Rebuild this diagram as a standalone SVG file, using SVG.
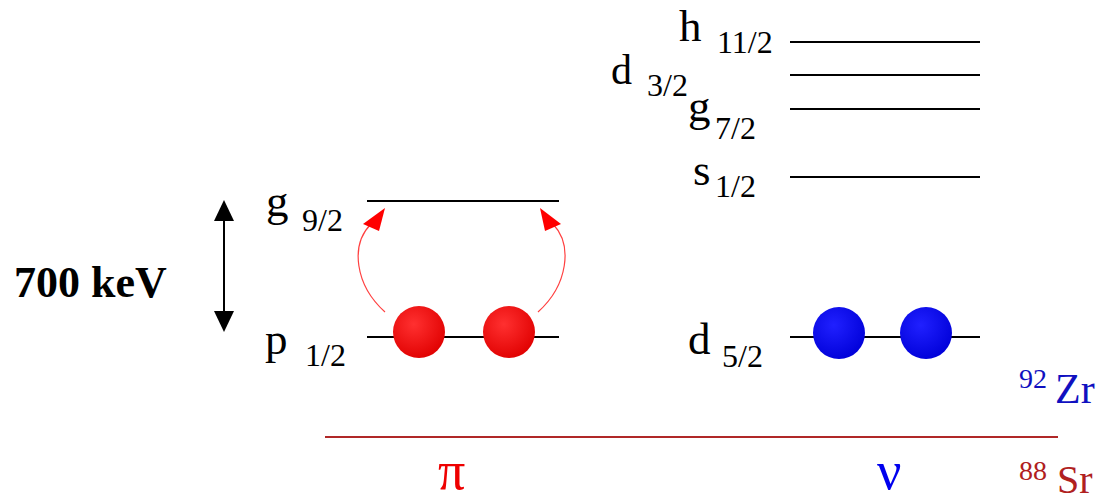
<svg xmlns="http://www.w3.org/2000/svg" width="1103" height="502" viewBox="0 0 1103 502">
<defs>
<radialGradient id="gr" cx="0.4" cy="0.35" r="0.7"><stop offset="0" stop-color="#ff3030"/><stop offset="1" stop-color="#e00000"/></radialGradient>
<radialGradient id="gb" cx="0.4" cy="0.35" r="0.7"><stop offset="0" stop-color="#2020ff"/><stop offset="1" stop-color="#0000d8"/></radialGradient>
<style>
.t{font-family:"Liberation Serif",serif;fill:#000}
.l{font-size:45px}
.s{font-size:32px}
.lv{stroke:#000;stroke-width:2;fill:none}
.ser{font-family:"Liberation Serif",serif}
</style>
</defs>
<g id="energy">
<line x1="224" y1="220" x2="224" y2="312" stroke="#000" stroke-width="2"/>
<path d="M224,200 L214,221 L234,221 z" fill="#000"/>
<path d="M224,332 L214,311 L234,311 z" fill="#000"/>
<text class="t" x="14" y="297" font-size="44" font-weight="bold">700 keV</text>
</g>
<g id="proton-g92">
<line class="lv" x1="367" y1="201" x2="559" y2="201"/>
<text class="t l" x="266" y="216">g</text><text class="t s" x="302" y="231">9/2</text>
</g>
<g id="proton-p12">
<line class="lv" x1="367" y1="337" x2="559" y2="337"/>
<text class="t l" x="265" y="354">p</text><text class="t s" x="305" y="366">1/2</text>
<circle cx="419" cy="332" r="26" fill="url(#gr)"/>
<circle cx="509" cy="332" r="26" fill="url(#gr)"/>
</g>
<g id="neutron-h112">
<line class="lv" x1="790" y1="42" x2="980" y2="42"/>
<text class="t l" x="679" y="41">h</text><text class="t s" x="717" y="53">11/2</text>
</g>
<g id="neutron-d32">
<line class="lv" x1="790" y1="75" x2="980" y2="75"/>
<text class="t" x="611" y="84" font-size="42">d</text><text class="t s" x="647" y="96">3/2</text>
</g>
<g id="neutron-g72">
<line class="lv" x1="790" y1="109" x2="980" y2="109"/>
<text class="t l" x="688" y="121">g</text><text class="t s" x="715" y="139">7/2</text>
</g>
<g id="neutron-s12">
<line class="lv" x1="790" y1="177" x2="980" y2="177"/>
<text class="t l" x="693" y="185">s</text><text class="t s" x="715" y="197">1/2</text>
</g>
<g id="neutron-d52">
<line class="lv" x1="790" y1="337" x2="980" y2="337"/>
<text class="t l" x="688" y="354">d</text><text class="t s" x="722" y="367">5/2</text>
<circle cx="839" cy="333" r="26" fill="url(#gb)"/>
<circle cx="926" cy="333" r="26" fill="url(#gb)"/>
</g>
<g id="connectors">
<path d="M385,312 C355,285 350,245 371,224" fill="none" stroke="#ff4040" stroke-width="1.2"/>
<path d="M385,208 L363,224 L379,231 z" fill="#ff0000"/>
<path d="M538,312 C568,285 573,245 553,224" fill="none" stroke="#ff4040" stroke-width="1.2"/>
<path d="M540,208 L545,231 L561,224 z" fill="#ff0000"/>
</g>
<g id="labels">
<line x1="325" y1="437" x2="1058" y2="437" stroke="#b02828" stroke-width="2"/>
<text class="ser" x="1019" y="388" font-size="28" fill="#1010c0">92</text>
<text class="ser" x="1055" y="403" font-size="42" fill="#1010c0">Zr</text>
<text class="ser" x="1019" y="480" font-size="28" fill="#b02020">88</text>
<text class="ser" x="1057" y="493" font-size="40" fill="#b02020">Sr</text>
<text class="ser" x="438" y="489" font-size="54" fill="#ee0000">π</text>
<text class="ser" x="877" y="489" font-size="54" fill="#0000ee">ν</text>
</g>
</svg>
